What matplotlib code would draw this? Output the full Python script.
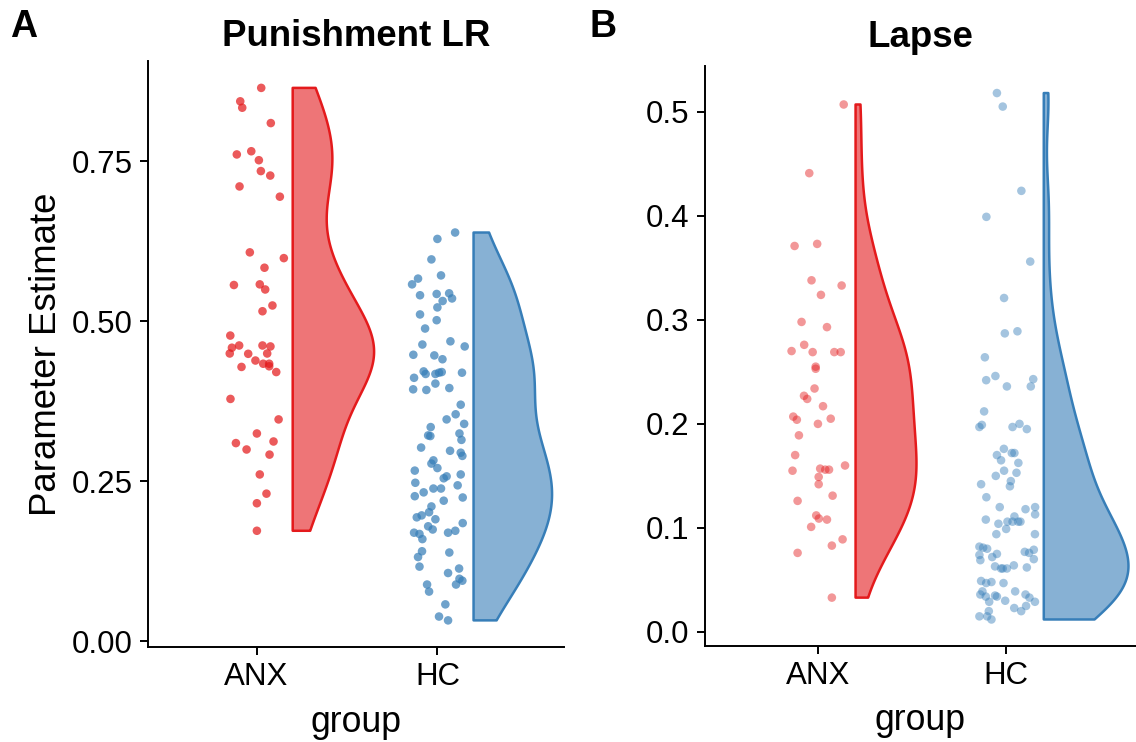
import numpy as np
import matplotlib
matplotlib.use("Agg")
import matplotlib.pyplot as plt
from matplotlib.ticker import FormatStrFormatter

plt.rcParams['font.family'] = ['Liberation Sans', 'DejaVu Sans']

groups = ["ANX", "HC"]
colors = {"ANX": "#E41A1C", "HC": "#377EB8"}

# ---- Panel A: Punishment LR ----
pun_anx = [0.865, 0.844, 0.834, 0.810, 0.761, 0.766, 0.752, 0.735, 0.728, 0.711, 0.695,
           0.608, 0.599, 0.584, 0.557, 0.558, 0.550, 0.525, 0.516, 0.478, 0.459, 0.4625,
           0.450, 0.4625, 0.461, 0.450, 0.4495, 0.429, 0.439, 0.434, 0.434, 0.430, 0.421,
           0.379, 0.347, 0.325, 0.310, 0.3125, 0.300, 0.292, 0.261, 0.231, 0.216, 0.173]
pun_anx_jit = [0.026, -0.090, -0.079, 0.079, -0.109, -0.029, 0.013, 0.024, 0.076, -0.094, 0.129,
               -0.037, 0.151, 0.044, -0.125, 0.018, 0.048, 0.088, 0.033, -0.145, -0.136, -0.096,
               -0.148, 0.033, 0.077, 0.059, -0.046, -0.083, -0.006, 0.037, 0.070, 0.070, 0.109,
               -0.144, 0.122, 0.002, -0.114, 0.094, -0.055, 0.072, 0.018, 0.055, 0.002, 0.002]

pun_hc = [0.639, 0.629, 0.597, 0.572, 0.567, 0.558, 0.541, 0.543, 0.544, 0.536, 0.532, 0.522,
          0.511, 0.502, 0.489, 0.469, 0.464, 0.461, 0.448, 0.447, 0.441, 0.422, 0.418, 0.418,
          0.420, 0.421, 0.420, 0.412, 0.403, 0.394, 0.393, 0.396, 0.370, 0.355, 0.347, 0.340,
          0.335, 0.322, 0.321, 0.325, 0.315, 0.303, 0.298, 0.295, 0.290, 0.283, 0.278, 0.271,
          0.267, 0.261, 0.258, 0.255, 0.248, 0.244, 0.239, 0.239, 0.233, 0.227, 0.225, 0.220,
          0.211, 0.202, 0.197, 0.194, 0.191, 0.185, 0.180, 0.175, 0.170, 0.168, 0.170, 0.173,
          0.160, 0.141, 0.139, 0.132, 0.117, 0.114, 0.107, 0.098, 0.095, 0.089, 0.089, 0.078,
          0.058, 0.039, 0.033]
pun_hc_jit = [0.098, 0.000, -0.033, 0.020, -0.107, -0.140, -0.096, -0.004, 0.065, 0.081, 0.029, 0.000,
              -0.096, -0.004, -0.068, 0.072, -0.083, 0.151, -0.133, -0.017, 0.028, -0.076, -0.065, -0.011,
              0.009, 0.024, 0.136, -0.129, -0.011, -0.134, -0.061, 0.066, 0.129, 0.101, 0.051, 0.148,
              -0.037, -0.051, -0.039, 0.122, 0.133, -0.090, 0.070, 0.129, 0.138, -0.022, -0.033, 0.000,
              -0.125, 0.129, 0.051, 0.035, -0.122, 0.112, -0.022, 0.020, -0.076, -0.125, 0.140, 0.035,
              -0.033, -0.046, -0.087, -0.114, -0.011, 0.140, -0.051, -0.026, -0.129, -0.099, 0.059, 0.099,
              -0.083, -0.085, 0.066, -0.107, -0.099, 0.120, 0.059, 0.122, 0.138, 0.103, -0.057, -0.046,
              0.044, 0.009, 0.059]

# ---- Panel B: Lapse ----
lap_anx = [0.507, 0.441, 0.371, 0.373, 0.338, 0.333, 0.324, 0.298, 0.293, 0.276, 0.270, 0.269,
           0.269, 0.269, 0.255, 0.253, 0.234, 0.227, 0.224, 0.217, 0.207, 0.204, 0.200, 0.205,
           0.189, 0.170, 0.155, 0.157, 0.156, 0.156, 0.160, 0.149, 0.142, 0.131, 0.126, 0.112,
           0.109, 0.108, 0.101, 0.089, 0.083, 0.076, 0.033]
lap_anx_jit = [0.137, -0.046, -0.124, -0.004, -0.034, 0.126, 0.016, -0.087, 0.048, -0.073, -0.140, -0.028,
               0.087, 0.121, -0.012, -0.012, -0.018, -0.074, -0.057, 0.027, -0.131, -0.112, 0.000, 0.068,
               -0.101, -0.121, -0.135, 0.012, 0.039, 0.059, 0.144, 0.004, 0.004, 0.078, -0.108, -0.009,
               0.005, 0.048, -0.036, 0.131, 0.074, -0.108, 0.074]

lap_hc = [0.518, 0.505, 0.424, 0.399, 0.356, 0.321, 0.287, 0.289, 0.264, 0.242, 0.246, 0.236,
          0.243, 0.236, 0.212, 0.197, 0.199, 0.197, 0.200, 0.195,
          0.176, 0.170, 0.165, 0.172, 0.172, 0.1625, 0.155, 0.153, 0.150, 0.145, 0.140, 0.142,
          0.1295, 0.120, 0.118, 0.120, 0.113, 0.108, 0.111, 0.106, 0.106, 0.106, 0.106, 0.104,
          0.099, 0.094, 0.094, 0.082, 0.081, 0.080, 0.074, 0.069, 0.072, 0.075, 0.077, 0.076,
          0.079, 0.070, 0.063, 0.061, 0.061, 0.061, 0.064, 0.062, 0.049, 0.047, 0.048, 0.047,
          0.039, 0.036, 0.034, 0.035, 0.034, 0.030, 0.029, 0.039, 0.036, 0.033, 0.029, 0.025,
          0.023, 0.020, 0.020, 0.015, 0.015, 0.012]
lap_hc_jit = [-0.049, -0.018, 0.081, -0.105, 0.128, -0.011, -0.007, 0.060, -0.113, -0.106, -0.057, 0.004,
              0.144, 0.131, -0.117, -0.142, -0.129, 0.034, 0.071, 0.110,
              -0.012, -0.049, -0.027, 0.030, 0.044, 0.065, -0.011, 0.055, -0.055, 0.025, 0.020, -0.133,
              -0.105, -0.034, 0.103, 0.154, 0.154, -0.108, 0.044, 0.007, 0.034, 0.064, 0.076, -0.041,
              0.000, -0.052, 0.153, -0.142, -0.122, -0.101, -0.142, -0.137, -0.074, -0.049, 0.099, 0.122,
              0.147, 0.147, -0.059, -0.027, -0.018, 0.004, 0.041, 0.110, -0.133, -0.106, -0.078, -0.014,
              -0.126, -0.137, -0.108, -0.059, -0.049, -0.005, -0.090, 0.048, 0.103, 0.124, 0.153, 0.106,
              0.043, 0.080, -0.092, -0.142, -0.101, -0.078]

pun_ticks = [0.00, 0.25, 0.50, 0.75]
lap_ticks = [0.0, 0.1, 0.2, 0.3, 0.4, 0.5]


def kde_trim(vals, n=512):
    v = np.asarray(vals, dtype=float)
    m = len(v)
    sd = v.std(ddof=1)
    q75, q25 = np.percentile(v, [75, 25])
    bw = 0.9 * min(sd, (q75 - q25) / 1.34) * m ** -0.2
    grid = np.linspace(v.min(), v.max(), n)
    dens = np.exp(-0.5 * ((grid[:, None] - v[None, :]) / bw) ** 2).sum(1) / (m * bw * np.sqrt(2 * np.pi))
    return grid, dens


def draw_panel(ax, data, jits, point_alpha, yticks, fmt, title, tpad):
    dens_all = [kde_trim(d) for d in data]
    dmax = max(d.max() for _, d in dens_all)
    for i, g in enumerate(groups):
        pos = i + 1
        c = colors[g]
        grid, dens = dens_all[i]
        x0 = pos + 0.2
        ax.fill_betweenx(grid, x0, x0 + dens / dmax * 0.45, facecolor=c, alpha=0.6,
                         edgecolor='none', zorder=2)
        ax.fill_betweenx(grid, x0, x0 + dens / dmax * 0.45, facecolor='none',
                         edgecolor=c, linewidth=1.8, zorder=3)
        xs = pos + np.asarray(jits[i])
        ax.scatter(xs, data[i], s=38, color=c, alpha=point_alpha, edgecolors='none', zorder=4)
    ax.set_xticks([1, 2])
    ax.set_xticklabels(groups)
    ax.set_yticks(yticks)
    ax.yaxis.set_major_formatter(FormatStrFormatter(fmt))
    for s in ['top', 'right']:
        ax.spines[s].set_visible(False)
    for s in ['left', 'bottom']:
        ax.spines[s].set_linewidth(1.4)
    ax.tick_params(axis='both', length=6, width=1.4, labelsize=22.5, pad=5, colors='black')
    ax.set_xlabel('group', fontsize=25.7, va='center')
    ax.xaxis.set_label_coords(0.5, -0.128)
    ax.set_title(title, fontsize=26.4, fontweight='bold', pad=tpad)


fig = plt.figure(figsize=(11.36, 7.42), dpi=100)
W, H = 1136, 742
axA = fig.add_axes([148 / W, 1 - 647 / H, (564 - 148) / W, (647 - 61) / H])
axB = fig.add_axes([705 / W, 1 - 646 / H, (1136 - 705) / W, (646 - 66) / H])

draw_panel(axA, [pun_anx, pun_hc], [pun_anx_jit, pun_hc_jit], 0.72, pun_ticks, '%.2f', 'Punishment LR', 11)
axA.set_xlim(0.4, 2.70)
axA.set_ylim(-0.0086, 0.907)
axA.set_ylabel('Parameter Estimate', fontsize=26.4, va='center')
axA.yaxis.set_label_coords(-0.245, 0.5)

draw_panel(axB, [lap_anx, lap_hc], [lap_anx_jit, lap_hc_jit], 0.45, lap_ticks, '%.1f', 'Lapse', 14)
axB.set_xlim(0.4, 2.69)
axB.set_ylim(-0.0135, 0.544)

fig.text(10 / W, 1 - 37 / H, 'A', fontsize=27, fontweight='bold', ha='left', va='baseline')
fig.text(590 / W, 1 - 37 / H, 'B', fontsize=27, fontweight='bold', ha='left', va='baseline')

fig.savefig('out.png', dpi=100)
